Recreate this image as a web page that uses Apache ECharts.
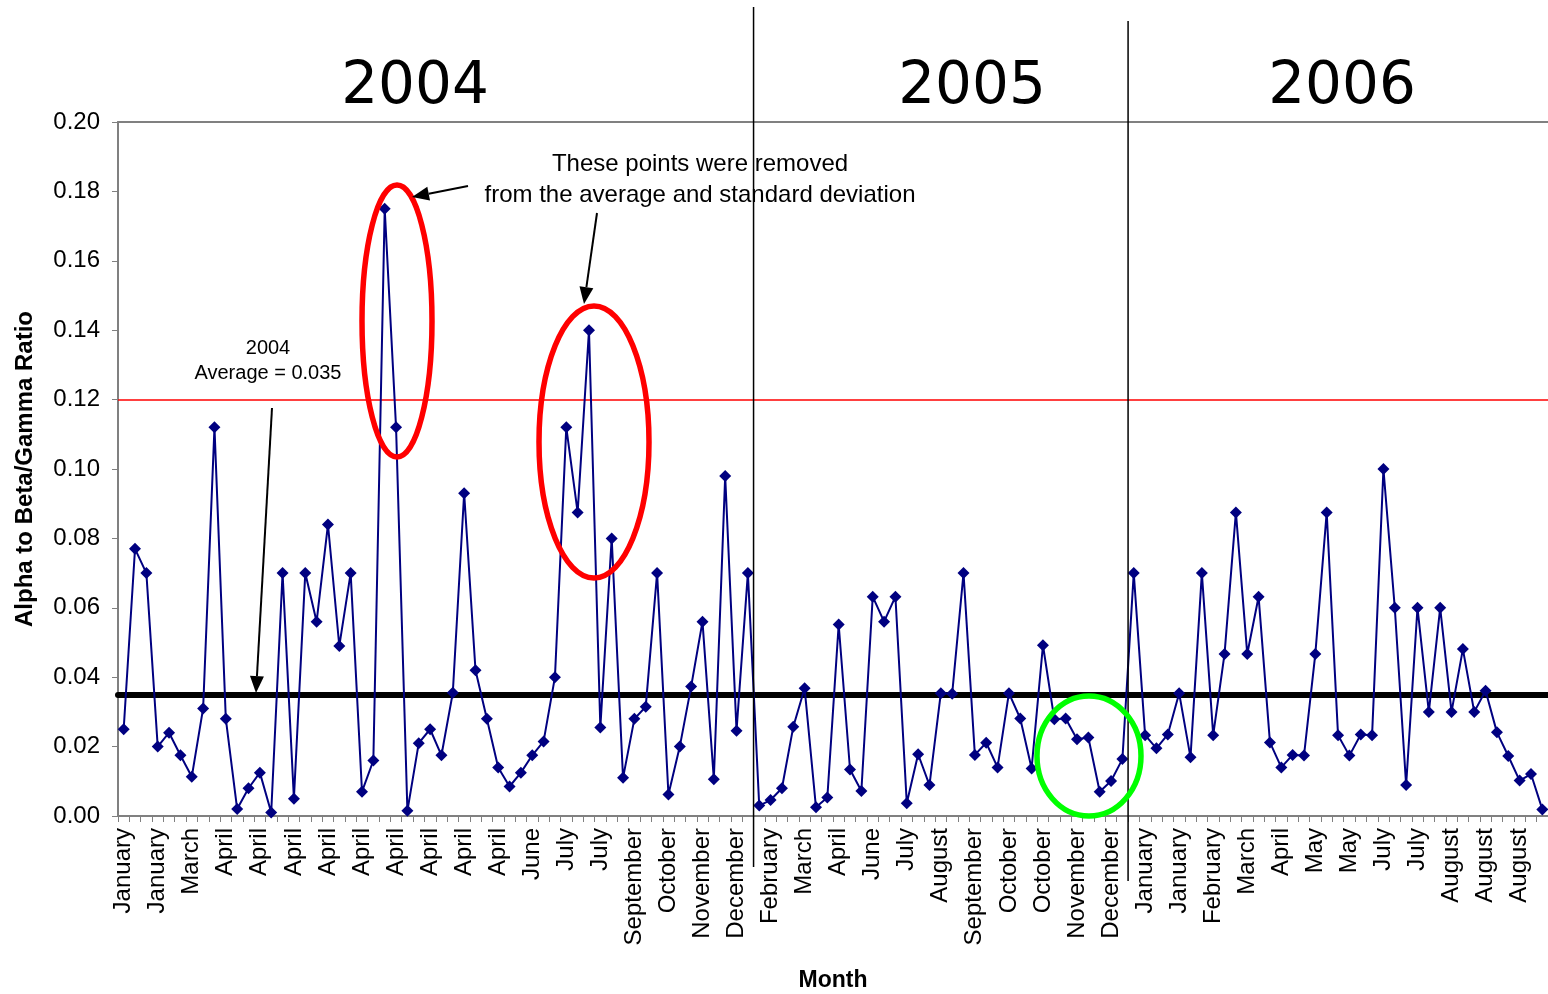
<!DOCTYPE html>
<html>
<head>
<meta charset="utf-8">
<script src="https://cdn.jsdelivr.net/npm/echarts@6/dist/echarts.min.js"></script>
<style>
html,body{margin:0;padding:0;background:#fff;}
#chart{width:1548px;height:994px;}
</style>
</head>
<body>
<div id="chart"></div>
<script>
// ---- data ----
const values2004 = [0.025, 0.077, 0.070, 0.020, 0.024, 0.0175, 0.0113, 0.031, 0.112, 0.028,
  0.002, 0.008, 0.0125, 0.001, 0.070, 0.005, 0.070, 0.056, 0.084, 0.049,
  0.070, 0.007, 0.016, 0.175, 0.112, 0.0015, 0.021, 0.025, 0.0175, 0.0355,
  0.093, 0.042, 0.028, 0.014, 0.0085, 0.0125, 0.0175, 0.0215, 0.040, 0.112,
  0.0875, 0.140, 0.0255, 0.080, 0.011, 0.028, 0.0315, 0.070, 0.0062, 0.020,
  0.0373, 0.056, 0.0106, 0.098, 0.0246, 0.070];
const values2005 = [0.003, 0.0046, 0.008, 0.0257, 0.0368, 0.0025, 0.0053, 0.0552, 0.0134, 0.0072,
  0.0632, 0.056, 0.0632, 0.0037, 0.0178, 0.0089, 0.0354, 0.0352, 0.070, 0.0176,
  0.0211, 0.014, 0.0354, 0.0281, 0.0137, 0.0492, 0.0279, 0.0281, 0.0221, 0.0226,
  0.007, 0.0101, 0.0164];
const values2006 = [0.070, 0.0233, 0.0195, 0.0235, 0.0354, 0.0169, 0.070, 0.0233, 0.0467, 0.0875,
  0.0467, 0.0632, 0.0212, 0.014, 0.0176, 0.0174, 0.0467, 0.0875, 0.0233, 0.0174,
  0.0235, 0.0233, 0.100, 0.060, 0.0089, 0.060, 0.030, 0.060, 0.030, 0.0481,
  0.030, 0.0361, 0.0241, 0.0173, 0.0102, 0.0121, 0.0019];
const tickLabels = ['January','January','March','April','April','April','April','April','April','April',
  'April','April','June','July','July','September','October','November','December','February',
  'March','April','June','July','August','September','October','October','November','December',
  'January','January','February','March','April','May','May','July','July','August',
  'August','August'];
const labelEvery = 3;
const yearLabels = ['2004','2005','2006'];
const upperLimit = 0.12;
const average2004 = 0.035;

const values = values2004.concat(values2005, values2006);
const categories = values.map((_, i) => String(i));

const FONT = "'Liberation Sans', Arial, sans-serif";
const chart = echarts.init(document.getElementById('chart'));

chart.setOption({
  animation: false,
  backgroundColor: '#ffffff',
  grid: {left: 118, right: 0, top: 122, bottom: 178, containLabel: false, outerBoundsMode: 'none'},
  xAxis: [{
    type: 'category',
    data: categories,
    boundaryGap: true,
    name: 'Month',
    nameLocation: 'middle',
    nameGap: 153,
    nameTextStyle: {fontFamily: FONT, fontSize: 23, fontWeight: 'bold', color: '#000'},
    axisLine: {lineStyle: {color: '#808080', width: 2}},
    axisTick: {show: true, interval: 0, length: 6, lineStyle: {color: '#808080', width: 1}},
    axisLabel: {
      interval: labelEvery - 1,
      rotate: 90,
      margin: 12,
      fontFamily: FONT, fontSize: 24, color: '#000',
      formatter: (v, i) => (i % labelEvery === 0 ? tickLabels[i / labelEvery] : '')
    },
    splitLine: {show: false}
  }, {
    type: 'category',
    data: categories,
    position: 'top',
    axisLine: {lineStyle: {color: '#808080', width: 2}},
    axisTick: {show: false},
    axisLabel: {show: false},
    splitLine: {show: false}
  }],
  yAxis: {
    type: 'value',
    min: 0, max: 0.2, interval: 0.02,
    name: 'Alpha to Beta/Gamma Ratio',
    nameLocation: 'middle',
    nameGap: 81,
    nameTextStyle: {fontFamily: FONT, fontSize: 24, fontWeight: 'bold', color: '#000'},
    axisLine: {show: true, lineStyle: {color: '#808080', width: 2}},
    axisTick: {show: true, length: 6, lineStyle: {color: '#808080', width: 1}},
    axisLabel: {fontFamily: FONT, fontSize: 24, color: '#000', margin: 18,
      formatter: v => v.toFixed(2)},
    splitLine: {show: false}
  },
  series: [{
    type: 'line',
    data: values,
    symbol: 'diamond',
    symbolSize: 12,
    showAllSymbol: true,
    lineStyle: {color: '#000080', width: 2},
    itemStyle: {color: '#000080'},
    z: 3,
    markLine: {
      silent: true,
      symbol: 'none',
      precision: 4,
      label: {show: false},
      z: 2,
      data: [
        {yAxis: upperLimit, lineStyle: {color: '#ff0000', width: 1.5, type: 'solid'}},
        {yAxis: average2004, lineStyle: {color: '#000000', width: 6, type: 'solid', cap: 'round'}}
      ]
    }
  }]
});

// ---- annotations ----
function arrow(x1, y1, x2, y2) {
  const dx = x2 - x1, dy = y2 - y1, L = Math.hypot(dx, dy);
  const ux = dx / L, uy = dy / L, hl = 17, hw = 7;
  const bx = x2 - ux * hl, by = y2 - uy * hl;
  return [
    {type: 'line', z: 100, shape: {x1: x1, y1: y1, x2: bx, y2: by}, style: {stroke: '#000', lineWidth: 2}},
    {type: 'polygon', z: 100, shape: {points: [[x2, y2], [bx - uy * hw, by + ux * hw], [bx + uy * hw, by - ux * hw]]}, style: {fill: '#000'}}
  ];
}
function ellipse(cx, cy, rx, ry, color) {
  return {type: 'ellipse', z: 100, shape: {cx: cx, cy: cy, rx: rx, ry: ry},
    style: {fill: 'none', stroke: color, lineWidth: 5.5}};
}
function text(x, y, t, size, family) {
  return {type: 'text', z: 100, x: x, y: y,
    style: {text: t, fontSize: size, fontFamily: family || FONT, fill: '#000', align: 'center', verticalAlign: 'middle'}};
}

const n04 = values2004.length, n05 = values2005.length;
const px = i => chart.convertToPixel({xAxisIndex: 0}, i);
const div1 = (px(n04 - 1) + px(n04)) / 2;
const div2 = (px(n04 + n05 - 1) + px(n04 + n05)) / 2;

const graphics = [
  {type: 'line', z: 100, shape: {x1: div1, y1: 7, x2: div1, y2: 867}, style: {stroke: '#000', lineWidth: 1.5}},
  {type: 'line', z: 100, shape: {x1: div2, y1: 21, x2: div2, y2: 881}, style: {stroke: '#000', lineWidth: 1.5}},
  text(415, 88, yearLabels[0], 58, "'DejaVu Sans', sans-serif"),
  text(972, 88, yearLabels[1], 58, "'DejaVu Sans', sans-serif"),
  text(1342, 88, yearLabels[2], 58, "'DejaVu Sans', sans-serif"),
  text(268, 348, '2004', 20),
  text(268, 373, 'Average = 0.035', 20),
  text(700, 164, 'These points were removed', 24),
  text(700, 195, 'from the average and standard deviation', 24),
  ellipse(397, 321, 35, 136, '#ff0000'),
  ellipse(594, 442, 55, 136, '#ff0000'),
  ellipse(1089, 756, 52, 60, '#00ff00')
].concat(arrow(272, 408, 256, 693), arrow(468, 186, 412, 197), arrow(597, 213, 584, 304));

chart.setOption({graphic: {elements: graphics}});
</script>
</body>
</html>
